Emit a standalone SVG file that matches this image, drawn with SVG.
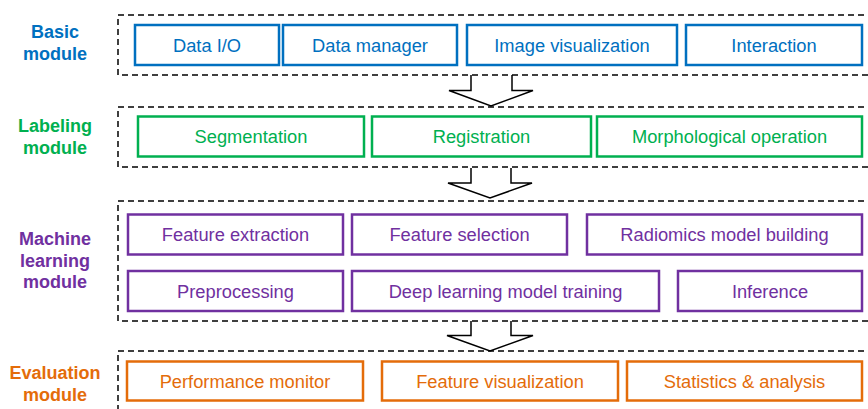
<svg xmlns="http://www.w3.org/2000/svg" width="868" height="409" viewBox="0 0 868 409">
<style>
text{font-family:"Liberation Sans",Arial,sans-serif;font-size:18.3px;text-anchor:middle}
.lbl{font-weight:bold;font-size:18px}
.dash{fill:none;stroke:#000;stroke-width:1.5;stroke-dasharray:6 4}
.box{fill:#fff;stroke-width:2.5}
.b .box{stroke:#0070C0}.b text{fill:#0070C0}
.g .box{stroke:#00B050}.g text{fill:#00B050}
.p .box{stroke:#7030A0}.p text{fill:#7030A0}
.o .box{stroke:#E46C0A}.o text{fill:#E46C0A}
.arr{fill:#fff;stroke:#000;stroke-width:1.5;stroke-linejoin:miter}
</style>
<rect width="868" height="409" fill="#fff"/>
<g id="connectors">
<path class="arr" d="M471,75 V90.5 H449 L491,106 L533,90.5 H512 V75"/>
<path class="arr" d="M471,168 V183 H448 L490,198 L532,183 H511 V168"/>
<path class="arr" d="M471,321 V335.5 H447 L490,351 L533,335.5 H511 V321"/>
</g>
<g id="containers">
<rect class="dash" x="118" y="15" width="760" height="60"/>
<rect class="dash" x="118" y="107" width="760" height="60"/>
<rect class="dash" x="118" y="201" width="760" height="120"/>
<rect class="dash" x="118" y="351" width="760" height="80"/>
</g>
<g id="basic" class="b">
<text class="lbl" x="55" y="38">Basic</text>
<text class="lbl" x="55" y="60">module</text>
<g id="data-io"><rect class="box" x="135" y="25" width="144" height="40"/><text x="207" y="51.5">Data I/O</text></g>
<g id="data-manager"><rect class="box" x="283" y="25" width="174" height="40"/><text x="370" y="51.5">Data manager</text></g>
<g id="image-visualization"><rect class="box" x="467" y="25" width="210" height="40"/><text x="572" y="51.5">Image visualization</text></g>
<g id="interaction"><rect class="box" x="686" y="25" width="176" height="40"/><text x="774" y="51.5">Interaction</text></g>
</g>
<g id="labeling" class="g">
<text class="lbl" x="55" y="132">Labeling</text>
<text class="lbl" x="55" y="153.5">module</text>
<g id="segmentation"><rect class="box" x="138" y="116.5" width="226" height="40"/><text x="251" y="143">Segmentation</text></g>
<g id="registration"><rect class="box" x="372" y="116.5" width="219" height="40"/><text x="481.5" y="143">Registration</text></g>
<g id="morphological"><rect class="box" x="597" y="116.5" width="265" height="40"/><text x="729.5" y="143">Morphological operation</text></g>
</g>
<g id="ml" class="p">
<text class="lbl" x="55" y="245">Machine</text>
<text class="lbl" x="55" y="266.5">learning</text>
<text class="lbl" x="55" y="288">module</text>
<g id="feature-extraction"><rect class="box" x="128" y="214.5" width="215" height="40"/><text x="235.5" y="241">Feature extraction</text></g>
<g id="feature-selection"><rect class="box" x="352" y="214.5" width="215" height="40"/><text x="459.5" y="241">Feature selection</text></g>
<g id="radiomics"><rect class="box" x="587" y="214.5" width="275" height="40"/><text x="724.5" y="241">Radiomics model building</text></g>
<g id="preprocessing"><rect class="box" x="128" y="271" width="215" height="40"/><text x="235.5" y="297.5">Preprocessing</text></g>
<g id="deep-learning"><rect class="box" x="352" y="271" width="307" height="40"/><text x="505.5" y="297.5">Deep learning model training</text></g>
<g id="inference"><rect class="box" x="678" y="271" width="184" height="40"/><text x="770" y="297.5">Inference</text></g>
</g>
<g id="evaluation" class="o">
<text class="lbl" x="55" y="379">Evaluation</text>
<text class="lbl" x="55" y="400.5">module</text>
<g id="performance-monitor"><rect class="box" x="127" y="361.5" width="236" height="39"/><text x="245" y="387.5">Performance monitor</text></g>
<g id="feature-visualization"><rect class="box" x="382" y="361.5" width="236" height="39"/><text x="500" y="387.5">Feature visualization</text></g>
<g id="statistics"><rect class="box" x="627" y="361.5" width="235" height="39"/><text x="744.5" y="387.5">Statistics &amp; analysis</text></g>
</g>
</svg>
